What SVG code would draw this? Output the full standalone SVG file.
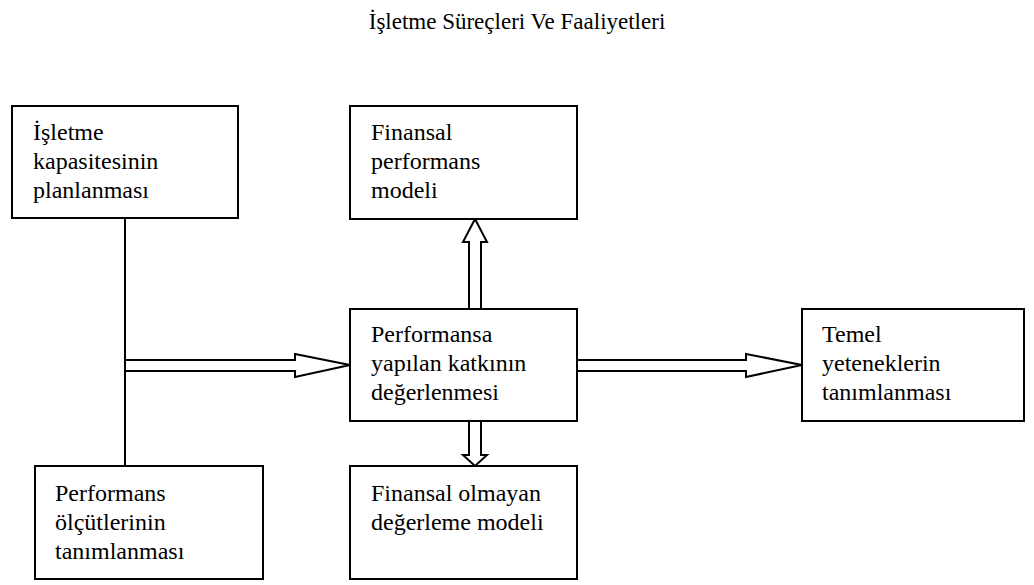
<svg xmlns="http://www.w3.org/2000/svg" width="1034" height="585" viewBox="0 0 1034 585" font-family="'Liberation Serif', 'Times New Roman', Times, serif">
  <style>
    .box { fill: #ffffff; stroke: #000000; stroke-width: 2; }
    .arrow { fill: #ffffff; stroke: #000000; stroke-width: 2; stroke-linejoin: miter; }
    .line { fill: none; stroke: #000000; stroke-width: 2; }
    .label { font-family: 'Liberation Serif', 'Times New Roman', Times, serif; font-size: 24px; fill: #000000; }
    .title { font-family: 'Liberation Serif', 'Times New Roman', Times, serif; font-size: 23px; fill: #000000; }
  </style>
  <rect width="1034" height="585" fill="#ffffff"/>

  <text class="title" x="517" y="29" text-anchor="middle">İşletme Süreçleri Ve Faaliyetleri</text>

  <!-- connectors -->
  <g id="connectors">
    <line class="line" x1="125" y1="218" x2="125" y2="466"/>
    <polygon class="arrow" points="125,360 295,360 295,354 350,365 295,377 295,371 125,371"/>
    <polygon class="arrow" points="577,360 746,360 746,354 802,365 746,377 746,371 577,371"/>
    <polygon class="arrow" points="469,309 469,242 463,242 475,219 487,242 481,242 481,309"/>
    <polygon class="arrow" points="469,421 469,455 463,455 475,466 487,455 481,455 481,421"/>
  </g>

  <g id="node-kapasite">
    <rect class="box" x="12" y="106" width="226" height="112"/>
    <text class="label"><tspan x="33" y="140">İşletme</tspan><tspan x="33" y="169">kapasitesinin</tspan><tspan x="33" y="198">planlanması</tspan></text>
  </g>

  <g id="node-finansal">
    <rect class="box" x="350" y="106" width="227" height="113"/>
    <text class="label"><tspan x="371" y="140">Finansal</tspan><tspan x="371" y="169">performans</tspan><tspan x="371" y="198">modeli</tspan></text>
  </g>

  <g id="node-katki">
    <rect class="box" x="350" y="309" width="227" height="112"/>
    <text class="label"><tspan x="371" y="342">Performansa</tspan><tspan x="371" y="371">yapılan katkının</tspan><tspan x="371" y="400">değerlenmesi</tspan></text>
  </g>

  <g id="node-yetenek">
    <rect class="box" x="802" y="309" width="222" height="112"/>
    <text class="label"><tspan x="822" y="342">Temel</tspan><tspan x="822" y="371">yeteneklerin</tspan><tspan x="822" y="400">tanımlanması</tspan></text>
  </g>

  <g id="node-olcut">
    <rect class="box" x="35" y="466" width="228" height="113"/>
    <text class="label"><tspan x="55" y="501">Performans</tspan><tspan x="55" y="530">ölçütlerinin</tspan><tspan x="55" y="559">tanımlanması</tspan></text>
  </g>

  <g id="node-finansal-olmayan">
    <rect class="box" x="350" y="466" width="227" height="113"/>
    <text class="label"><tspan x="371" y="501">Finansal olmayan</tspan><tspan x="371" y="530">değerleme modeli</tspan></text>
  </g>
</svg>
